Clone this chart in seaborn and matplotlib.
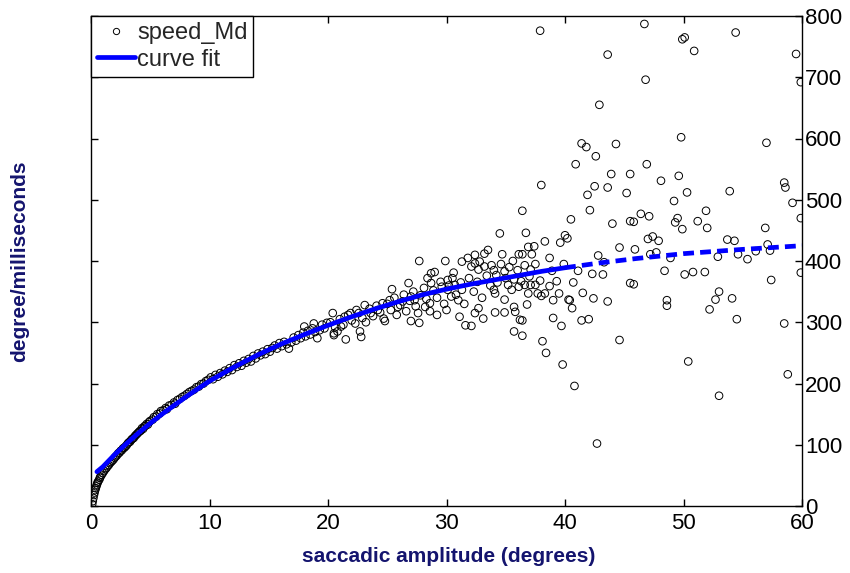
import matplotlib
matplotlib.use("Agg")
import matplotlib.pyplot as plt
import pandas as pd
import seaborn as sns
from matplotlib.lines import Line2D

# ---------------- data ----------------
pts_start = [(0.1, 3), (0.15, 8), (0.2, 13), (0.25, 18), (0.3, 22), (0.35, 26), (0.4, 29),
             (0.45, 32), (0.5, 35), (0.55, 38), (0.6, 40), (0.7, 43), (0.75, 46), (0.8, 48),
             (0.9, 51), (1.0, 54), (1.1, 57), (1.2, 60), (1.3, 62), (1.4, 65), (1.5, 67),
             (1.6, 70), (1.7, 72), (1.8, 74), (1.9, 76), (2.0, 79), (2.1, 81), (2.2, 83),
             (2.3, 86), (2.4, 87), (2.5, 90), (2.6, 91), (2.7, 94), (2.8, 95), (2.9, 97), (3.0, 99)]

pts_rise = [(3.1, 102), (3.2, 104), (3.3, 105), (3.4, 108), (3.5, 110), (3.6, 111), (3.7, 114),
            (3.8, 116), (3.9, 118), (4.0, 120), (4.1, 122), (4.2, 123), (4.3, 127), (4.4, 126),
            (4.5, 130), (4.6, 131), (4.7, 134), (4.8, 133), (4.9, 137), (5.0, 139), (5.2, 141),
            (5.3, 145), (5.5, 146), (5.6, 150), (5.8, 151), (5.9, 155), (6.1, 156), (6.3, 160),
            (6.4, 158), (6.6, 164), (6.8, 165), (7.0, 169), (7.1, 167), (7.3, 173), (7.5, 175),
            (7.7, 178), (7.9, 180), (8.1, 183), (8.3, 186), (8.5, 188), (8.7, 190), (8.9, 194),
            (9.1, 195), (9.3, 199), (9.5, 200), (9.7, 204), (9.9, 206)]

pts_band = [(10.1, 210), (10.3, 207), (10.5, 214), (10.7, 211), (10.9, 217), (11.1, 215),
            (11.3, 221), (11.5, 219), (11.7, 225), (11.9, 222), (12.1, 230), (12.3, 227),
            (12.5, 233), (12.7, 229), (12.9, 237), (13.1, 234), (13.3, 240), (13.5, 236),
            (13.7, 245), (13.9, 241), (14.1, 249), (14.3, 246), (14.5, 252), (14.7, 248),
            (14.9, 256), (15.1, 252), (15.3, 258), (15.5, 262), (15.7, 257), (15.9, 266),
            (16.1, 261), (16.3, 268), (16.5, 264), (16.7, 257), (16.9, 267), (17.1, 275),
            (17.3, 270), (17.5, 279), (17.7, 274), (17.9, 283), (18.0, 293), (18.1, 277),
            (18.3, 286), (18.5, 280), (18.7, 290), (18.8, 298), (18.9, 284), (19.1, 274),
            (19.3, 287), (19.5, 296), (19.7, 290), (19.9, 299)]

pts_mid = [(20.2, 300), (20.4, 315), (20.5, 279), (20.5, 282), (20.6, 292), (20.8, 285),
           (21.0, 305), (21.1, 293), (21.3, 296), (21.4, 309), (21.5, 272), (21.7, 312),
           (21.9, 315), (22.0, 303), (22.3, 298), (22.4, 320), (22.6, 315), (22.7, 285),
           (22.8, 276), (22.9, 307), (23.1, 328), (23.2, 300), (23.5, 322), (23.6, 315),
           (23.8, 310), (24.1, 327), (24.2, 320), (24.4, 316), (24.6, 331), (24.7, 306),
           (24.8, 302), (25.0, 330), (25.2, 336), (25.3, 320), (25.4, 354), (25.6, 340),
           (25.8, 312), (25.9, 325), (26.1, 328), (26.3, 334), (26.4, 345), (26.6, 318),
           (26.8, 364), (26.9, 335), (27.0, 302), (27.0, 342), (27.2, 350), (27.3, 336),
           (27.4, 326), (27.6, 315), (27.7, 400), (27.7, 299), (27.8, 344), (28.1, 356),
           (28.2, 325), (28.3, 338), (28.4, 372), (28.6, 318), (28.6, 331), (28.7, 364),
           (28.7, 380), (28.9, 352), (29.0, 382), (29.2, 312), (29.2, 340), (29.5, 366),
           (29.6, 358), (29.8, 330), (29.9, 400), (30.0, 320), (30.1, 353), (30.1, 369),
           (30.2, 360), (30.4, 342), (30.5, 372), (30.6, 381), (30.7, 361), (30.8, 345),
           (31.0, 336), (31.1, 309), (31.2, 365), (31.3, 353), (31.3, 399), (31.5, 330),
           (31.6, 295), (31.8, 405), (31.9, 372), (32.1, 294), (32.1, 391), (32.3, 350),
           (32.4, 315), (32.4, 396), (32.4, 410), (32.6, 366), (32.7, 323), (32.7, 386),
           (32.8, 399), (33.0, 340), (33.1, 306), (33.2, 391), (33.2, 412), (33.4, 376),
           (33.5, 418), (33.7, 360), (33.8, 393), (34.0, 353), (34.0, 385), (34.1, 347),
           (34.1, 316), (34.2, 377), (34.3, 365), (34.5, 445), (34.6, 395), (34.7, 411),
           (34.9, 383), (34.9, 337), (34.9, 316), (35.0, 372), (35.2, 361), (35.3, 390),
           (35.5, 353), (35.6, 400), (35.7, 370), (35.7, 325), (35.7, 285), (35.8, 317),
           (36.0, 385), (36.1, 358), (36.1, 411), (36.2, 304), (36.3, 367), (36.4, 278),
           (36.4, 482), (36.4, 411), (36.6, 361), (36.6, 393), (36.7, 446), (36.9, 347),
           (36.9, 423), (37.0, 375), (37.1, 361), (37.5, 395), (37.5, 361), (37.9, 368)]

pts_far = [(37.9, 776), (46.7, 787), (49.9, 762), (50.1, 765), (50.9, 743), (54.4, 773),
           (43.6, 737), (59.5, 738), (46.8, 696), (59.9, 692), (42.9, 655), (49.8, 602),
           (57.0, 593), (41.4, 592), (41.8, 586), (44.3, 591), (42.6, 571), (40.9, 558),
           (46.9, 558), (43.9, 542), (45.5, 542), (49.6, 539), (48.1, 531), (38.0, 524),
           (42.5, 522), (43.6, 520), (45.2, 511), (50.3, 512), (53.9, 514), (58.5, 528),
           (58.6, 520), (41.9, 508), (49.2, 498), (42.1, 483), (51.9, 482), (59.2, 495),
           (40.5, 468), (45.5, 465), (45.8, 464), (46.4, 477), (47.1, 473), (49.5, 470),
           (49.3, 463), (49.9, 452), (51.2, 465), (52.0, 454), (44.0, 461), (59.9, 470),
           (38.3, 432), (37.4, 424), (40.0, 442), (40.2, 437), (39.6, 430), (47.0, 436),
           (47.4, 440), (47.9, 433), (56.9, 454), (53.7, 435), (54.3, 433), (57.1, 427),
           (44.6, 422), (45.9, 419), (37.2, 411), (38.7, 405), (39.9, 395), (37.1, 386),
           (38.9, 384), (42.8, 409), (47.2, 411), (47.7, 414), (48.9, 405), (52.9, 407),
           (54.6, 411), (55.4, 403), (56.1, 416), (57.3, 417), (59.9, 381), (41.1, 384),
           (42.3, 379), (43.2, 378), (43.3, 398), (48.4, 384), (50.1, 378), (50.8, 382),
           (51.8, 382), (57.4, 369), (36.4, 303), (36.8, 329), (37.7, 347), (38.0, 343),
           (38.3, 347), (38.7, 359), (39.3, 367), (39.5, 347), (39.0, 336), (40.3, 337),
           (40.4, 336), (40.6, 323), (40.7, 365), (41.5, 348), (42.4, 339), (43.6, 334),
           (45.5, 364), (45.8, 362), (48.6, 336), (48.6, 327), (52.2, 321), (52.7, 337),
           (53.0, 350), (54.1, 339), (54.5, 305), (58.5, 298), (39.0, 307), (39.7, 294),
           (41.4, 303), (42.0, 305), (38.1, 269), (38.4, 250), (44.6, 271), (39.8, 231),
           (50.4, 236), (40.8, 196), (58.8, 215), (53.0, 180), (42.7, 102)]

curve_x = [0.5, 1, 2, 3, 4, 5, 6, 8, 10, 12, 14, 16, 18, 20, 22, 24, 26, 28, 30, 32, 34,
           36, 38, 40, 43, 46, 50, 55, 60]
curve_y = [56, 64, 84, 102, 119, 135, 150, 178, 204, 226, 246, 264, 280, 295, 309, 322, 334,
           345, 354, 362, 369, 376, 383, 389, 397, 404, 412, 419, 425]

x_ticks = [0, 10, 20, 30, 40, 50, 60]
y_ticks = [0, 100, 200, 300, 400, 500, 600, 700, 800]

# ---------------- plotting ----------------
sns.set_style("ticks")
plt.rcParams["font.family"] = ["Liberation Sans", "DejaVu Sans"]

fig = plt.figure(figsize=(8.5, 5.73), dpi=100)
ax = fig.add_axes([91 / 850, 1 - 506 / 573, (802 - 91) / 850, (506 - 16) / 573])

df = pd.DataFrame(pts_start + pts_rise + pts_band + pts_mid + pts_far, columns=["amp", "speed"])
sns.scatterplot(data=df, x="amp", y="speed", ax=ax, marker="o", s=30,
                fc="none", ec="black", linewidth=0.7, legend=False, zorder=2)

cdf = pd.DataFrame({"x": curve_x, "y": curve_y})
solid = cdf[cdf["x"] <= 40]
dashed = cdf[cdf["x"] >= 40]
sns.lineplot(data=solid, x="x", y="y", ax=ax, color="#0000ff", lw=3.4,
             estimator=None, sort=False, zorder=3)
sns.lineplot(data=dashed, x="x", y="y", ax=ax, color="#0000ff", lw=3.4,
             estimator=None, sort=False, zorder=3, linestyle=(0, (2.3, 1.3)))

ax.set_xlim(0, 60)
ax.set_ylim(0, 800)
ax.set_xticks(x_ticks)
ax.set_yticks(y_ticks)
ax.set_xticklabels([str(v) for v in x_ticks])
ax.set_yticklabels([str(v) for v in y_ticks])
ax.set_xlabel("")
ax.set_ylabel("")
ax.tick_params(axis="both", direction="in", length=5, width=1, color="black",
               top=True, right=True, left=True, bottom=True,
               labelleft=False, labelright=True, labelsize=16, labelcolor="black")
ax.tick_params(axis="x", pad=5)
ax.tick_params(axis="y", pad=2)
for sp in ax.spines.values():
    sp.set_visible(True)
    sp.set_color("black")
    sp.set_linewidth(1)

lab_color = "#14146e"
fig.text(449 / 850, 1 - 557 / 573, "saccadic amplitude (degrees)", ha="center", va="center",
         fontsize=15, fontweight="bold", color=lab_color)
fig.text(20 / 850, 1 - 261 / 573, "degree/milliseconds", ha="center", va="center",
         rotation=90, fontsize=15, fontweight="bold", color=lab_color)

handles = [Line2D([], [], marker="o", ls="none", mfc="none", mec="black", ms=4.5, mew=0.7),
           Line2D([], [], color="#0000ff", lw=3.4)]
leg = ax.legend(handles=handles, labels=["speed_Md", "curve fit"], loc="upper left",
                frameon=True, fancybox=False, edgecolor="black", framealpha=1,
                borderaxespad=0, fontsize=17, handlelength=1.6, handletextpad=0.1,
                borderpad=0.25, labelspacing=0.2)
leg.get_frame().set_linewidth(1)

fig.savefig("out.png", dpi=100)
